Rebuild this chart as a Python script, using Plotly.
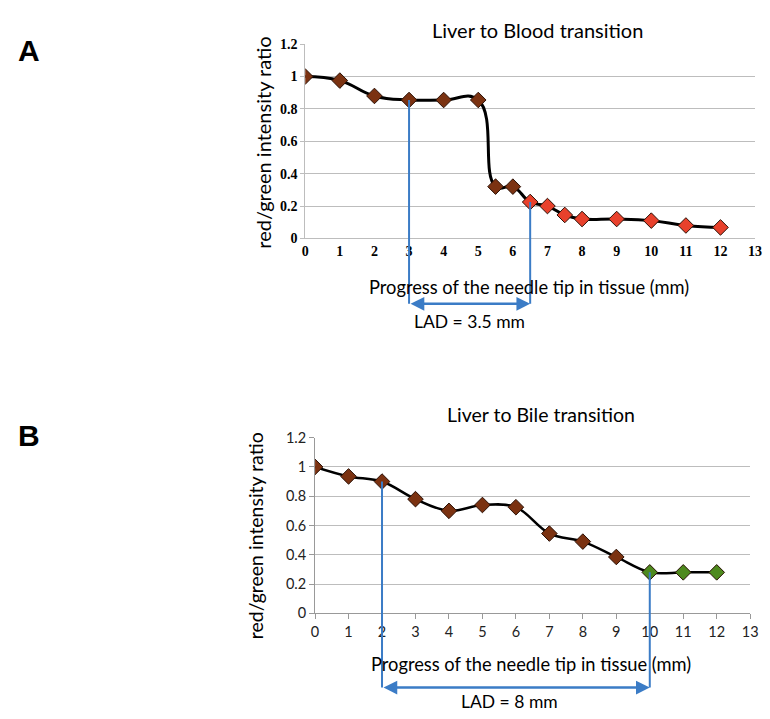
import plotly.graph_objects as go

# ---- Data ----
blood_x = [0, 1, 2, 3, 4, 5, 5.5, 6, 6.5, 7, 7.5, 8, 9, 10, 11, 12]
blood_y = [1.0, 0.975, 0.88, 0.855, 0.855, 0.855, 0.32, 0.32, 0.225, 0.2, 0.145, 0.12, 0.12, 0.11, 0.08, 0.068]
blood_phase = ["liver"] * 8 + ["blood"] * 8

bile_x = [0, 1, 2, 3, 4, 5, 6, 7, 8, 9, 10, 11, 12]
bile_y = [1.0, 0.935, 0.90, 0.78, 0.70, 0.74, 0.725, 0.545, 0.49, 0.385, 0.28, 0.28, 0.28]
bile_phase = ["liver"] * 10 + ["bile"] * 3

blood_lad = (3, 6.5)
bile_lad = (2, 10)
x_ticks = list(range(0, 14))
y_ticks = [0, 0.2, 0.4, 0.6, 0.8, 1.0, 1.2]
y_ticktext = ["0", "0.2", "0.4", "0.6", "0.8", "1", "1.2"]

# ---- Style ----
W, H = 770, 719
phase_colors = {"liver": "#7B3211", "blood": "#E8412C", "bile": "#4E8A1E"}
BLUE = "#3B7CC6"
GRID = "#BDBDBD"


def px(x):
    return x / W


def py(y):
    return (H - y) / H


top_dom_y = (py(235), py(36))
bot_dom_y = (py(619), py(439))
top_dom_x = (px(306), px(763))
bot_dom_x = (px(316), px(758))
YMAX = 1.2


def to_paper(v, dom):
    return dom[0] + v / YMAX * (dom[1] - dom[0])


fig = go.Figure()

# Top chart
fig.add_trace(go.Scatter(x=blood_x, y=blood_y, mode="lines",
                         line=dict(color="black", width=3, shape="spline", smoothing=1.3),
                         xaxis="x", yaxis="y", hoverinfo="skip", showlegend=False))
fig.add_trace(go.Scatter(x=blood_x, y=blood_y, mode="markers",
                         marker=dict(symbol="diamond", size=12,
                                     color=[phase_colors[p] for p in blood_phase],
                                     line=dict(color="#2a1005", width=1)),
                         xaxis="x", yaxis="y", showlegend=False))
# Bottom chart
fig.add_trace(go.Scatter(x=bile_x, y=bile_y, mode="lines",
                         line=dict(color="black", width=2.5, shape="spline", smoothing=1.0),
                         xaxis="x2", yaxis="y2", hoverinfo="skip", showlegend=False))
fig.add_trace(go.Scatter(x=bile_x, y=bile_y, mode="markers",
                         marker=dict(symbol="diamond", size=12,
                                     color=[phase_colors[p] for p in bile_phase],
                                     line=dict(color="#2a1005", width=1)),
                         xaxis="x2", yaxis="y2", showlegend=False))

shapes = []
annotations = []

# LAD markers top
top_arrow_y = py(302)
for xv in blood_lad:
    yv = blood_y[blood_x.index(xv)]
    shapes.append(dict(type="line", xref="x", yref="paper", x0=xv, x1=xv,
                       y0=to_paper(yv, top_dom_y), y1=top_arrow_y,
                       line=dict(color=BLUE, width=2)))
annotations.append(dict(x=blood_lad[1], y=top_arrow_y, ax=blood_lad[0], ay=0,
                        xref="x", yref="paper", axref="x", ayref="pixel",
                        showarrow=True, arrowside="end+start", arrowhead=2, arrowsize=1.1,
                        arrowwidth=2.5, arrowcolor=BLUE, text=""))
# LAD markers bottom
bot_arrow_y = py(695)
for xv in bile_lad:
    yv = bile_y[bile_x.index(xv)]
    shapes.append(dict(type="line", xref="x2", yref="paper", x0=xv, x1=xv,
                       y0=to_paper(yv, bot_dom_y), y1=bot_arrow_y,
                       line=dict(color=BLUE, width=2)))
annotations.append(dict(x=bile_lad[1], y=bot_arrow_y, ax=bile_lad[0], ay=0,
                        xref="x2", yref="paper", axref="x2", ayref="pixel",
                        showarrow=True, arrowside="end+start", arrowhead=2, arrowsize=1.1,
                        arrowwidth=2.5, arrowcolor=BLUE, text=""))

TXT = dict(family="Lato, Carlito, 'Open Sans', sans-serif", color="black")


def txt(text, xp, yp, size, angle=0, family=None, bold=False):
    f = dict(TXT, size=size)
    if family:
        f["family"] = family
    annotations.append(dict(text=f"<b>{text}</b>" if bold else text,
                            x=px(xp), y=py(yp), xref="paper", yref="paper",
                            showarrow=False, font=f, textangle=angle,
                            xanchor="center", yanchor="middle"))


txt("Liver to Blood transition", 542, 21, 20)
txt("Progress of the needle tip in tissue (mm)", 533, 285, 18.3)
txt("LAD = 3.5 mm", 473, 320, 17.5)
txt("red/green intensity ratio", 263, 137, 20, angle=-90)
txt("Liver to Bile transition", 545, 415, 19.5)
txt("Progress of the needle tip in tissue (mm)", 535, 671, 18.3)
txt("LAD = 8 mm", 514, 709, 17.5)
txt("red/green intensity ratio", 255, 540, 19.5, angle=-90)
txt("A", 25, 42, 30, family="Liberation Sans, Arial, sans-serif", bold=True)
txt("B", 25, 437, 30, family="Liberation Sans, Arial, sans-serif", bold=True)

serif_bold = dict(family="Liberation Serif, Times New Roman, serif", size=14, color="black")
sans = dict(family="Lato, Carlito, 'Open Sans', sans-serif", size=14.5, color="#222")

fig.update_layout(
    width=W, height=H, margin=dict(l=0, r=0, t=0, b=0),
    paper_bgcolor="white", plot_bgcolor="white",
    shapes=shapes, annotations=annotations, showlegend=False,
    xaxis=dict(domain=top_dom_x, anchor="y", range=[0, 13], tickvals=x_ticks,
               ticktext=[f"<b>{t}</b>" for t in x_ticks],
               tickfont=serif_bold, showgrid=False, zeroline=False, showline=True,
               linecolor=GRID, linewidth=1, ticks="", ticklen=0),
    yaxis=dict(domain=top_dom_y, anchor="x", range=[0, 1.2], tickvals=y_ticks,
               ticktext=[f"<b>{t}</b>" for t in y_ticktext],
               tickfont=serif_bold, showgrid=True, gridcolor=GRID, gridwidth=1,
               zeroline=False, showline=True, linecolor=GRID, linewidth=1,
               ticks="outside", ticklen=4, tickcolor=GRID),
    xaxis2=dict(domain=bot_dom_x, anchor="y2", range=[0, 13], tickvals=x_ticks,
                tickfont=sans, showgrid=False, zeroline=False, showline=True,
                linecolor="#999", linewidth=1, ticks="outside", ticklen=5, tickcolor="#999"),
    yaxis2=dict(domain=bot_dom_y, anchor="x2", range=[0, 1.2], tickvals=y_ticks,
                ticktext=y_ticktext,
                tickfont=sans, showgrid=True, gridcolor=GRID, gridwidth=1,
                zeroline=False, showline=True, linecolor="#999", linewidth=1,
                ticks="outside", ticklen=5, tickcolor="#999"),
)

fig.write_html(
    "out.html",
    config={"displayModeBar": False},
    post_script="document.body.style.margin='0';"
                "document.documentElement.style.overflow='hidden';"
                "document.body.style.overflow='hidden';",
)
